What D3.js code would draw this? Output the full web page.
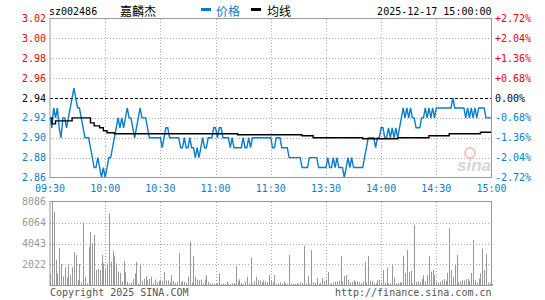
<!DOCTYPE html>
<meta charset="utf-8">
<script src="https://cdn.jsdelivr.net/npm/d3@7"></script>
<style>
body { margin: 0; background: #fff; }
text { font-family: "DejaVu Sans Mono", monospace; font-size: 10px; }
.cn { font-family: "Noto Sans CJK SC", sans-serif; font-size: 12px; }
.grid { stroke: #aaa; stroke-dasharray: 1,2; shape-rendering: crispEdges; }
</style>
<body>
<script>

// sz002486 嘉麟杰 2025-12-17, one value per minute (09:30-11:30, 13:00-15:00)
var prices = [
  2.92,2.91,2.93,2.92,2.93,2.91,2.90,2.92,2.92,2.91,
  2.92,2.93,2.94,2.95,2.94,2.93,2.93,2.92,2.91,2.90,
  2.90,2.90,2.89,2.88,2.87,2.87,2.88,2.87,2.86,2.87,
  2.86,2.87,2.88,2.88,2.89,2.90,2.91,2.92,2.91,2.92,
  2.91,2.92,2.93,2.92,2.92,2.91,2.90,2.91,2.92,2.93,
  2.92,2.92,2.92,2.91,2.90,2.90,2.90,2.90,2.90,2.90,
  2.90,2.89,2.90,2.91,2.91,2.90,2.90,2.90,2.90,2.90,
  2.90,2.89,2.89,2.90,2.89,2.89,2.90,2.89,2.89,2.88,
  2.89,2.88,2.89,2.90,2.89,2.89,2.90,2.90,2.90,2.91,
  2.91,2.90,2.91,2.91,2.90,2.90,2.90,2.90,2.89,2.90,
  2.89,2.89,2.89,2.89,2.89,2.90,2.89,2.89,2.90,2.89,
  2.90,2.90,2.90,2.90,2.90,2.90,2.90,2.90,2.90,2.90,
  2.90,2.89,2.89,2.90,2.90,2.90,2.89,2.89,2.89,2.89,
  2.88,2.88,2.88,2.88,2.88,2.88,2.88,2.87,2.87,2.87,
  2.87,2.88,2.88,2.88,2.88,2.88,2.87,2.87,2.87,2.87,
  2.87,2.88,2.87,2.87,2.88,2.87,2.88,2.87,2.87,2.87,
  2.86,2.87,2.88,2.87,2.88,2.87,2.87,2.87,2.87,2.87,
  2.87,2.88,2.89,2.90,2.90,2.90,2.90,2.89,2.90,2.90,
  2.91,2.91,2.90,2.90,2.91,2.90,2.91,2.90,2.91,2.90,
  2.91,2.92,2.93,2.92,2.93,2.92,2.93,2.92,2.92,2.91,
  2.91,2.91,2.92,2.92,2.93,2.92,2.93,2.92,2.93,2.92,
  2.93,2.93,2.93,2.93,2.93,2.93,2.93,2.93,2.93,2.94,
  2.93,2.93,2.93,2.93,2.93,2.93,2.92,2.93,2.92,2.93,
  2.92,2.93,2.92,2.93,2.93,2.93,2.93,2.92,2.92,2.92,
  2.92
];

var volumes = [
  1160,8086,7080,2450,1160,3575,2060,840,1740,770,
  2060,1000,1740,3220,2930,515,2060,300,6090,840,
  200,3735,5150,4060,4860,1480,1580,1480,2930,2125,
  1545,2125,6950,2290,3350,2830,2125,1320,1220,400,
  2350,1290,350,200,300,610,1160,2250,200,2030,
  450,650,900,500,650,850,200,580,300,450,
  580,450,1290,500,500,300,1000,450,250,350,
  3120,320,450,350,250,870,4250,280,2830,840,
  580,500,580,200,580,1000,350,200,200,150,
  150,200,1160,150,200,150,350,150,150,200,
  250,1870,420,600,250,150,350,840,200,2700,
  150,400,840,500,500,300,500,400,300,1000,
  500,300,1000,150,200,300,150,400,200,150,
  2930,150,150,150,200,150,300,250,3800,200,
  900,150,3415,300,250,700,150,250,700,450,
  550,1290,150,200,300,350,350,450,2830,350,
  900,1000,550,300,350,500,400,400,300,250,
  400,2250,300,2830,450,450,250,200,500,550,
  300,1480,300,1740,200,200,1960,750,200,250,
  300,300,2830,1220,3415,1290,1420,200,5830,350,
  420,300,650,965,400,1000,2830,1320,1480,1000,
  350,300,350,500,600,450,1220,5500,1480,840,
  1960,2930,300,400,500,500,600,650,400,1220,
  4380,500,300,650,1160,3575,1480,3030,300,200,
  150
];

// average line (minute index, value)
var avgMinute = [0, 1, 3, 12, 22, 24, 27, 29, 31, 35, 102, 137, 143, 170, 189, 206, 217, 234, 240];
var avgValue  = [2.920, 2.914, 2.917, 2.920, 2.915, 2.912, 2.910, 2.907, 2.905, 2.904, 2.903, 2.902, 2.900, 2.899, 2.900, 2.902, 2.904, 2.9055, 2.9055];

var priceTicks = [3.02, 3.00, 2.98, 2.96, 2.94, 2.92, 2.90, 2.88, 2.86];
var pctLabels = ["+2.72%", "+2.04%", "+1.36%", "+0.68%", "0.00%", "-0.68%", "-1.36%", "-2.04%", "-2.72%"];
var volTicks = [8086, 6064, 4043, 2022];
var timeTicks = [0, 30, 60, 90, 120, 150, 180, 210, 240];
var timeLabels = ["09:30", "10:00", "10:30", "11:00", "11:30", "13:30", "14:00", "14:30", "15:00"];
var preClose = 2.94;

var width = 545, height = 300;
var left = 50, right = 491.5;
var blue = "#0a7ecb", red = "#f00000";

var svg = d3.select("body").append("svg")
    .attr("width", width)
    .attr("height", height);

var x = d3.scaleLinear().domain([0, 240]).range([left, right]);
var y = d3.scaleLinear().domain([2.86, 3.02]).range([177.5, 18.5]);
var yv = d3.scaleLinear().domain([0, 8086]).range([285.5, 201.5]);

function tickColor(v) {
  if (Math.abs(v - preClose) < 1e-6) return "#000";
  return v > preClose ? red : blue;
}

// header
svg.append("text").attr("x", 49).attr("y", 15).text("sz002486");
svg.append("text").attr("class", "cn").attr("x", 120).attr("y", 16).text("嘉麟杰");
svg.append("rect").attr("x", 201).attr("y", 8).attr("width", 10).attr("height", 3).attr("fill", blue);
svg.append("text").attr("class", "cn").attr("x", 216).attr("y", 16).attr("fill", blue).text("价格");
svg.append("rect").attr("x", 251).attr("y", 8).attr("width", 10).attr("height", 3).attr("fill", "#000");
svg.append("text").attr("class", "cn").attr("x", 267).attr("y", 16).text("均线");
svg.append("text").attr("x", right).attr("y", 15).attr("text-anchor", "end").text("2025-12-17 15:00:00");

// price panel grid
svg.append("g").selectAll("line")
    .data(priceTicks.filter(function(d) { return d != 3.02 && d != 2.86 && d != preClose; }))
    .enter().append("line")
    .attr("class", "grid")
    .attr("x1", left).attr("x2", right)
    .attr("y1", function(d) { return Math.round(y(d)) + 0.5; })
    .attr("y2", function(d) { return Math.round(y(d)) + 0.5; });

svg.append("g").selectAll("line")
    .data(timeTicks.slice(1, 8))
    .enter().append("line")
    .attr("class", "grid")
    .attr("x1", function(d) { return Math.round(x(d)) + 0.5; })
    .attr("x2", function(d) { return Math.round(x(d)) + 0.5; })
    .attr("y1", 18.5).attr("y2", 177.5);

// previous close line
svg.append("line")
    .attr("x1", left).attr("x2", right)
    .attr("y1", Math.round(y(preClose)) + 0.5).attr("y2", Math.round(y(preClose)) + 0.5)
    .attr("stroke", "#000")
    .attr("stroke-dasharray", "3,2")
    .style("shape-rendering", "crispEdges");

// sina watermark
svg.append("circle").attr("cx", 470).attr("cy", 153).attr("r", 5)
    .attr("fill", "none").attr("stroke", "#f2c4c4").attr("stroke-width", 2);
svg.append("text").attr("x", 457).attr("y", 171)
    .style("font-family", "Liberation Sans, sans-serif")
    .style("font-size", "17px").style("font-style", "italic").style("font-weight", "bold")
    .attr("fill", "#d6d6d6").text("sina");

// y labels
svg.append("g").selectAll("text")
    .data(priceTicks)
    .enter().append("text")
    .attr("x", 46)
    .attr("y", function(d) { return y(d) + 3.5; })
    .attr("text-anchor", "end")
    .attr("fill", tickColor)
    .text(function(d) { return d.toFixed(2); });

svg.append("g").selectAll("text")
    .data(priceTicks)
    .enter().append("text")
    .attr("x", 495)
    .attr("y", function(d) { return y(d) + 3.5; })
    .attr("fill", tickColor)
    .text(function(d, i) { return pctLabels[i]; });

// lines
var priceLine = d3.line()
    .x(function(d, i) { return x(i); })
    .y(function(d) { return y(d); });

svg.append("path")
    .datum(prices)
    .attr("d", priceLine)
    .attr("fill", "none")
    .attr("stroke", blue)
    .attr("stroke-width", 1.4);

var avgLine = d3.line()
    .curve(d3.curveStepAfter)
    .x(function(d) { return x(d[0]); })
    .y(function(d) { return y(d[1]); });

svg.append("path")
    .datum(d3.zip(avgMinute, avgValue))
    .attr("d", avgLine)
    .attr("fill", "none")
    .attr("stroke", "#000")
    .attr("stroke-width", 1.4);

// price panel border
svg.append("rect")
    .attr("x", left).attr("y", 18.5)
    .attr("width", right - left).attr("height", 159)
    .attr("fill", "none").attr("stroke", "#999");

// time labels
svg.append("g").selectAll("text")
    .data(timeTicks)
    .enter().append("text")
    .attr("x", function(d) { return x(d); })
    .attr("y", 192)
    .attr("text-anchor", "middle")
    .attr("fill", blue)
    .text(function(d, i) { return timeLabels[i]; });

// volume panel
svg.append("g").selectAll("line")
    .data(volTicks.slice(1))
    .enter().append("line")
    .attr("class", "grid")
    .attr("x1", left).attr("x2", right)
    .attr("y1", function(d) { return Math.round(yv(d)) + 0.5; })
    .attr("y2", function(d) { return Math.round(yv(d)) + 0.5; });

svg.append("g").selectAll("line")
    .data(timeTicks.slice(1, 8))
    .enter().append("line")
    .attr("class", "grid")
    .attr("x1", function(d) { return Math.round(x(d)) + 0.5; })
    .attr("x2", function(d) { return Math.round(x(d)) + 0.5; })
    .attr("y1", 201.5).attr("y2", 285.5);

svg.append("g").selectAll("rect")
    .data(volumes)
    .enter().append("rect")
    .attr("x", function(d, i) { return Math.round(x(i)); })
    .attr("y", function(d) { return yv(d); })
    .attr("width", 1)
    .attr("height", function(d) { return yv(0) - yv(d); })
    .attr("fill", "#999");

svg.append("rect")
    .attr("x", left).attr("y", 201.5)
    .attr("width", right - left).attr("height", 84)
    .attr("fill", "none").attr("stroke", "#999");

svg.append("g").selectAll("text")
    .data(volTicks)
    .enter().append("text")
    .attr("x", 46)
    .attr("y", function(d) { return yv(d) + 3.5; })
    .attr("text-anchor", "end")
    .attr("fill", "#999")
    .text(function(d) { return d; });

// footer
svg.append("text").attr("x", 50).attr("y", 296).attr("fill", "#555").text("Copyright 2025 SINA.COM");
svg.append("text").attr("x", right).attr("y", 296).attr("text-anchor", "end").attr("fill", "#555").text("http://finance.sina.com.cn");

</script>
</body>
</html>
